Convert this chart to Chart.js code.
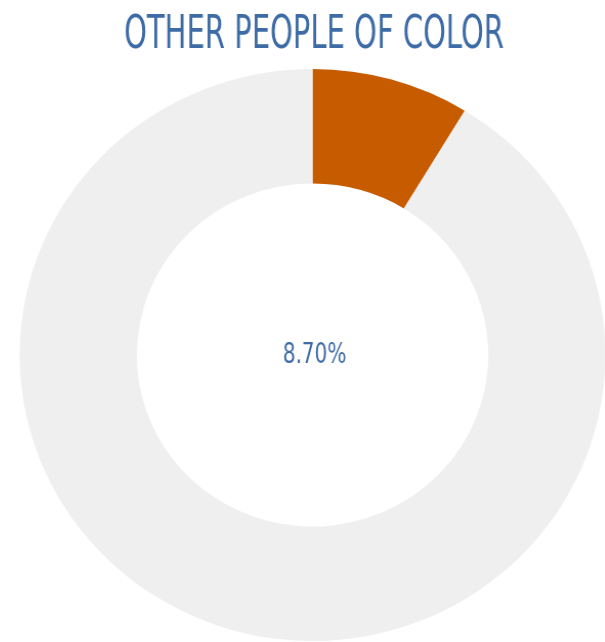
<!DOCTYPE html>
<html>
<head>
<meta charset="utf-8">
<script src="https://cdn.jsdelivr.net/npm/chart.js@4"></script>
<style>
  html, body { margin: 0; padding: 0; background: #fff; overflow: hidden; }
  #wrap { width: 605px; height: 642px; transform: scaleX(1.024); transform-origin: 312px 0; }
</style>
</head>
<body>
<div id="wrap"><canvas id="chart"></canvas></div>
<script>
const title = 'OTHER PEOPLE OF COLOR'
const labels = [ 'Other People of Color', 'Rest' ]
const values = [ 8.7, 91.3 ]
const centerLabel = '8.70%'

const colors = [ '#c75b00', '#efefef' ]
const textColor = '#3d6ba6'
const fontFamily = '"Liberation Sans Narrow", "DejaVu Sans Condensed", "Roboto", sans-serif'

// draw text squeezed to a given width, like the condensed font of the original
function fitText( ctx, text, x, y, size, width ) {
   ctx.save()
   ctx.font = `${size}px ${fontFamily}`
   ctx.fillStyle = textColor
   ctx.textAlign = 'center'
   ctx.textBaseline = 'alphabetic'
   const w = ctx.measureText( text ).width
   const sx = width / w
   ctx.translate( x, y )
   ctx.scale( sx, 1 )
   ctx.fillText( text, 0, 0 )
   ctx.restore()
}

const labelsPlugin = {
   id: 'donut_labels',
   afterDraw( chart ) {
      const { ctx } = chart
      const arc = chart.getDatasetMeta( 0 ).data[ 0 ]
      fitText( ctx, title, 314, 48, 47, 371 )
      fitText( ctx, centerLabel, arc.x + 2, 363, 28, 62 )
   },
}

new Chart( document.getElementById( 'chart' ), {
   type: 'doughnut',
   data: {
      labels,
      datasets: [ {
         data: values,
         backgroundColor: colors,
         borderWidth: 0,
      } ],
   },
   options: {
      responsive: true,
      maintainAspectRatio: false,
      animation: false,
      cutout: '60%',
      layout: {
         padding: { top: 69, bottom: 1, left: 20, right: 0 },
      },
      plugins: {
         legend: { display: false },
         tooltip: { enabled: false },
         title: { display: false },
      },
   },
   plugins: [ labelsPlugin ],
} )
</script>
</body>
</html>
